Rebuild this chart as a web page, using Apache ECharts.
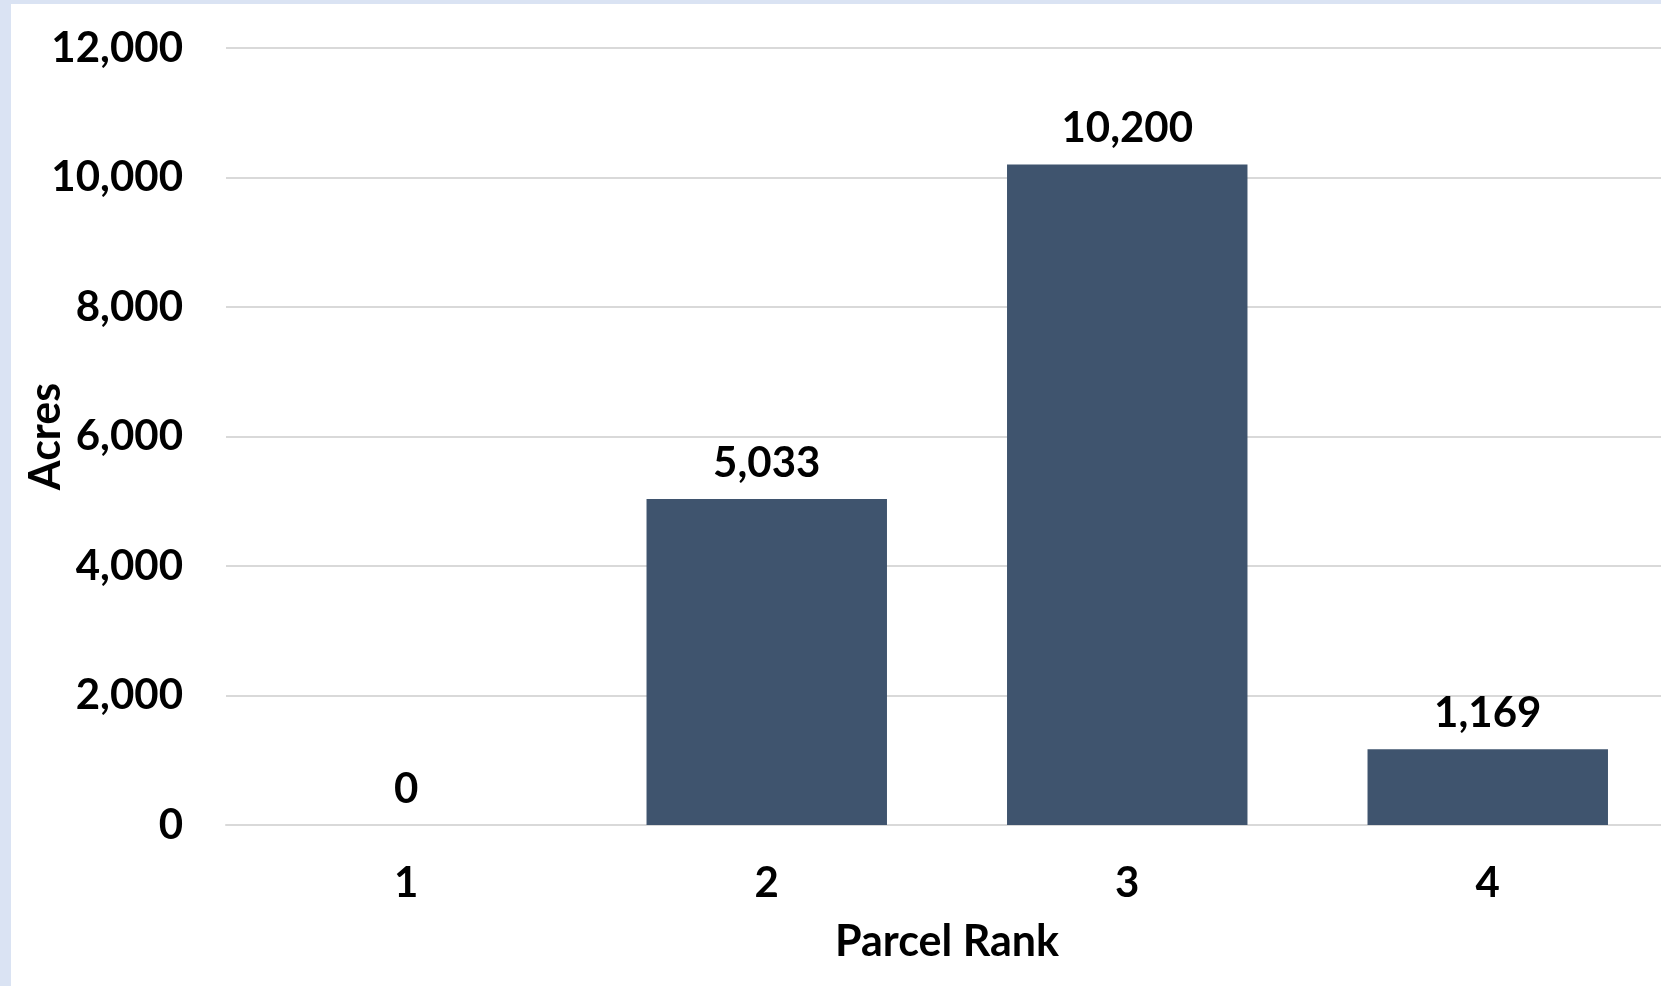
<!DOCTYPE html>
<html>
<head>
<meta charset="utf-8">
<script src="https://cdn.jsdelivr.net/npm/echarts@6/dist/echarts.min.js"></script>
<style>
  html, body { margin: 0; padding: 0; background: #dae3f3; }
  #chart { position: absolute; left: 11px; top: 4px; width: 1650px; height: 982px; background: #ffffff; }
</style>
</head>
<body>
<div id="chart"></div>
<script>
// Acres by parcel rank
const categories = ['1', '2', '3', '4'];
const acres = [0, 5033, 10200, 1169];

const chart = echarts.init(document.getElementById('chart'), null, { renderer: 'canvas' });
const font = 'Lato, "Open Sans", sans-serif';
const fmt = v => Number(v).toLocaleString('en-US');

chart.setOption({
  animation: false,
  grid: { left: 215, right: -7, top: 44, bottom: 161, containLabel: false, outerBoundsMode: 'none' },
  xAxis: {
    type: 'category',
    data: categories,
    name: 'Parcel Rank',
    nameLocation: 'middle',
    nameGap: 96,
    nameTextStyle: { fontFamily: font, fontWeight: 'bold', fontSize: 43, color: '#000' },
    axisLine: { show: true, lineStyle: { color: '#d9d9d9', width: 2 } },
    axisTick: { show: false },
    axisLabel: { fontFamily: font, fontWeight: 'bold', fontSize: 42, color: '#000', margin: 37 }
  },
  yAxis: {
    type: 'value',
    min: 0,
    max: 12000,
    interval: 2000,
    name: 'Acres',
    nameLocation: 'middle',
    nameGap: 158,
    nameMoveOverlap: false,
    nameTextStyle: { fontFamily: font, fontWeight: 'bold', fontSize: 43, color: '#000' },
    axisLine: { show: false },
    axisTick: { show: false },
    splitLine: { lineStyle: { color: '#d9d9d9', width: 2 } },
    axisLabel: { fontFamily: font, fontWeight: 'bold', fontSize: 42, color: '#000', margin: 43, formatter: fmt }
  },
  series: [{
    type: 'bar',
    data: acres,
    barWidth: '66.7%',
    itemStyle: { color: '#3f546e' },
    label: {
      show: true,
      position: 'top',
      distance: 15,
      fontFamily: font,
      fontWeight: 'bold',
      fontSize: 42,
      color: '#000',
      formatter: p => fmt(p.value)
    }
  }]
});
</script>
</body>
</html>
